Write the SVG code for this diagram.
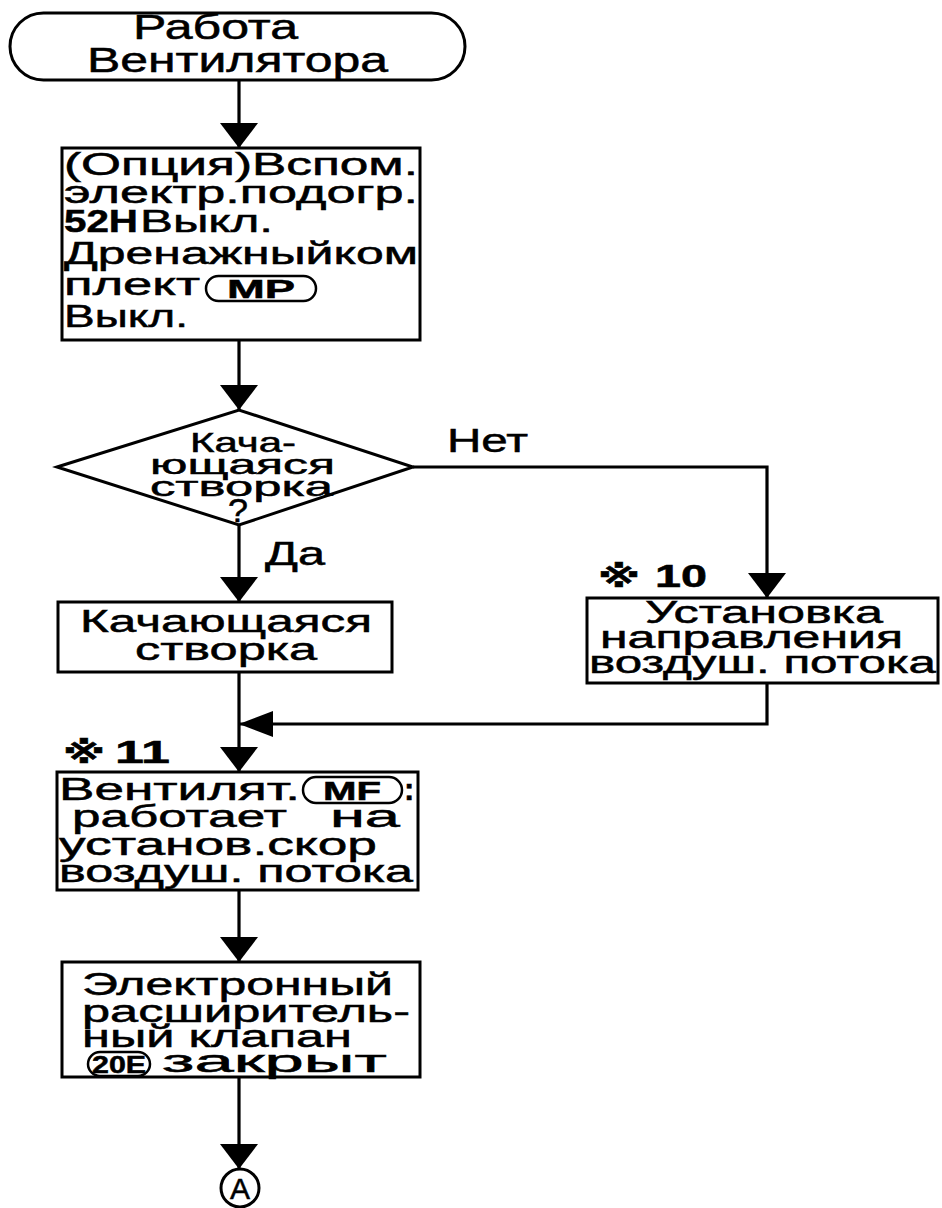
<svg xmlns="http://www.w3.org/2000/svg" width="942" height="1208" viewBox="0 0 942 1208">
<defs>
<style>
.bg{fill:#fff}
.shape{fill:#fff;stroke:#000;stroke-width:3}
.cap{fill:#fff;stroke:#000;stroke-width:2.5}
.line{fill:none;stroke:#000;stroke-width:3.2}
text{font-family:"Liberation Sans",Arial,sans-serif;fill:#000;stroke:#000;stroke-width:0.5}
.t{font-size:31px}
.tt{font-size:35px}
.td{font-size:28px}
.b{font-weight:bold}
.ref{font-family:"DejaVu Sans","Noto Sans CJK JP",sans-serif;font-size:30px;font-weight:bold}
</style>
<marker id="ah" viewBox="0 0 25 38" refX="25" refY="19" markerWidth="25" markerHeight="38" orient="auto" markerUnits="userSpaceOnUse">
<path d="M0,0 L25,19 L0,38 z" fill="#000"/>
</marker>
<marker id="ahL" viewBox="0 0 34 26" refX="34" refY="13" markerWidth="34" markerHeight="26" orient="auto" markerUnits="userSpaceOnUse">
<path d="M0,0 L34,13 L0,26 z" fill="#000"/>
</marker>
</defs>
<rect class="bg" x="0" y="0" width="942" height="1208"/>

<g id="connectors">
<path class="line" d="M239,80 V148" marker-end="url(#ah)"/>
<path class="line" d="M239,340 V410" marker-end="url(#ah)"/>
<path class="line" d="M413,467 H767 V598" marker-end="url(#ah)"/>
<path class="line" d="M239,525 V602" marker-end="url(#ah)"/>
<path class="line" d="M767,683 V724 H239" marker-end="url(#ahL)"/>
<path class="line" d="M239,672 V772" marker-end="url(#ah)"/>
<path class="line" d="M239,890 V962" marker-end="url(#ah)"/>
<path class="line" d="M239,1077 V1169" marker-end="url(#ah)"/>
<text x="447" y="452" textLength="81" lengthAdjust="spacingAndGlyphs" style="font-size:33px">Нет</text>
<text x="265" y="565" textLength="60" lengthAdjust="spacingAndGlyphs" style="font-size:33px">Да</text>
</g>

<g id="start">
<rect class="shape" x="10" y="13" width="455" height="67" rx="33.5" ry="33.5"/>
<text class="tt" x="133" y="39" textLength="165" lengthAdjust="spacingAndGlyphs">Работа</text>
<text class="tt" x="87" y="72" textLength="301" lengthAdjust="spacingAndGlyphs">Вентилятора</text>
</g>

<g id="heater">
<rect class="shape" x="62" y="148" width="358" height="192"/>
<text class="t" x="64" y="175" textLength="354" lengthAdjust="spacingAndGlyphs">(Опция)Вспом.</text>
<text class="t" x="64" y="203" textLength="354" lengthAdjust="spacingAndGlyphs">электр.подогр.</text>
<text class="t b" x="64" y="232" textLength="74" lengthAdjust="spacingAndGlyphs">52H</text>
<text class="t" x="140" y="232" textLength="133" lengthAdjust="spacingAndGlyphs">Выкл.</text>
<text class="t" x="64" y="264" textLength="354" lengthAdjust="spacingAndGlyphs">Дренажныйком</text>
<text class="t" x="64" y="295" textLength="136" lengthAdjust="spacingAndGlyphs">плект</text>
<rect class="cap" x="206" y="276" width="110" height="25" rx="12.5" ry="12.5"/>
<text class="b" x="227" y="298" textLength="68" lengthAdjust="spacingAndGlyphs" style="font-size:26px">MP</text>
<text class="t" x="64" y="327" textLength="124" lengthAdjust="spacingAndGlyphs">Выкл.</text>
</g>

<g id="decision">
<polygon class="shape" points="57,467 239,410 413,467 239,525"/>
<text class="td" x="190" y="452" textLength="106" lengthAdjust="spacingAndGlyphs">Кача-</text>
<text class="td" x="150" y="474" textLength="185" lengthAdjust="spacingAndGlyphs">ющаяся</text>
<text class="td" x="150" y="496" textLength="183" lengthAdjust="spacingAndGlyphs">створка</text>
<text x="228" y="522" textLength="20" lengthAdjust="spacingAndGlyphs" style="font-size:34px">?</text>
</g>

<g id="swing">
<rect class="shape" x="58" y="602" width="334" height="70"/>
<text class="t" x="80" y="632" textLength="292" lengthAdjust="spacingAndGlyphs">Качающаяся</text>
<text class="t" x="135" y="660" textLength="182" lengthAdjust="spacingAndGlyphs">створка</text>
</g>

<g id="airflow">
<text class="ref" x="598" y="587" textLength="42" lengthAdjust="spacingAndGlyphs">※</text>
<text class="t b" x="655" y="587" textLength="52" lengthAdjust="spacingAndGlyphs">10</text>
<rect class="shape" x="587" y="598" width="351" height="85"/>
<text class="t" x="645" y="623" textLength="238" lengthAdjust="spacingAndGlyphs">Установка</text>
<text class="t" x="600" y="648" textLength="303" lengthAdjust="spacingAndGlyphs">направления</text>
<text class="t" x="589" y="673" textLength="347" lengthAdjust="spacingAndGlyphs">воздуш. потока</text>
</g>

<g id="fan">
<text class="ref" x="63" y="763" textLength="42" lengthAdjust="spacingAndGlyphs">※</text>
<text class="t b" x="115" y="763" textLength="55" lengthAdjust="spacingAndGlyphs">11</text>
<rect class="shape" x="57" y="772" width="361" height="118"/>
<text class="t" x="59" y="800" textLength="241" lengthAdjust="spacingAndGlyphs">Вентилят.</text>
<rect class="cap" x="303" y="777" width="99" height="26" rx="13" ry="13"/>
<text class="b" x="323" y="800" textLength="58" lengthAdjust="spacingAndGlyphs" style="font-size:26px">MF</text>
<text class="t b" x="404" y="800">:</text>
<text class="t" x="72" y="827" textLength="215" lengthAdjust="spacingAndGlyphs">работает</text>
<text class="t" x="330" y="827" textLength="70" lengthAdjust="spacingAndGlyphs">на</text>
<text class="t" x="59" y="855" textLength="318" lengthAdjust="spacingAndGlyphs">установ.скор</text>
<text class="t" x="59" y="882" textLength="354" lengthAdjust="spacingAndGlyphs">воздуш. потока</text>
</g>

<g id="valve">
<rect class="shape" x="62" y="962" width="358" height="115"/>
<text class="t" x="82" y="995" textLength="311" lengthAdjust="spacingAndGlyphs">Электронный</text>
<text class="t" x="82" y="1022" textLength="328" lengthAdjust="spacingAndGlyphs">расширитель-</text>
<text class="t" x="82" y="1047" textLength="270" lengthAdjust="spacingAndGlyphs">ный клапан</text>
<rect class="cap" x="88" y="1052" width="62" height="24" rx="12" ry="12"/>
<text class="b" x="92" y="1073" textLength="54" lengthAdjust="spacingAndGlyphs" style="font-size:24px">20E</text>
<text class="t" x="162" y="1072" textLength="225" lengthAdjust="spacingAndGlyphs">закрыт</text>
</g>

<g id="connector-A">
<circle class="shape" cx="240" cy="1188" r="19"/>
<text x="240" y="1199" text-anchor="middle" style="font-size:30px">A</text>
</g>
</svg>
